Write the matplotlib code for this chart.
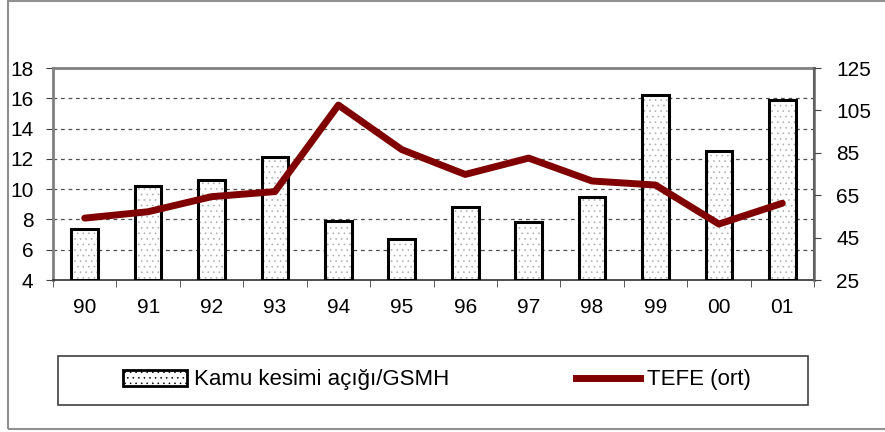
import matplotlib.pyplot as plt
from matplotlib.patches import Patch, Rectangle
from matplotlib.lines import Line2D
import numpy as np

# Veriler
yillar = ['90', '91', '92', '93', '94', '95', '96', '97', '98', '99', '00', '01']
kamu_acigi = [7.4, 10.2, 10.6, 12.1, 7.9, 6.7, 8.8, 7.8, 9.5, 16.2, 12.5, 15.9]
tefe = [54.2, 57.2, 64.3, 66.7, 107.5, 86.5, 74.8, 82.5, 71.7, 69.8, 51.4, 61.2]

sol_ticks = [4, 6, 8, 10, 12, 14, 16, 18]
sag_ticks = [25, 45, 65, 85, 105, 125]

plt.rcParams['font.family'] = ['Liberation Sans', 'DejaVu Sans']
plt.rcParams['hatch.linewidth'] = 0.4

fig = plt.figure(figsize=(8.85, 4.32), dpi=100)
ax = fig.add_axes([53 / 885, 1 - 280 / 432, 761 / 885, 212 / 432])

x = np.arange(len(yillar)) + 0.5

# Barlar: önce noktalı dolgu, sonra siyah çerçeve
ax.bar(x, [v - 4 for v in kamu_acigi], bottom=4, width=0.42, color='white',
       edgecolor='#a8a8a8', hatch='...', linewidth=0, zorder=2)
ax.bar(x, [v - 4 for v in kamu_acigi], bottom=4, width=0.42, fill=False,
       edgecolor='black', linewidth=2.2, zorder=3)

ax.set_xlim(0, len(yillar))
ax.set_ylim(4, 18)
ax.set_yticks(sol_ticks)
ax.set_xticks(x)
ax.set_xticklabels(yillar)
ax.set_xticks(np.arange(len(yillar) + 1), minor=True)
ax.tick_params(axis='x', which='major', length=0, pad=13, labelsize=15)
ax.tick_params(axis='x', which='minor', length=5, direction='out', color='#404040')
ax.tick_params(axis='y', length=5, direction='out', labelsize=15, pad=9, color='#404040')

for yv in sol_ticks[1:-1]:
    ax.axhline(yv, color='#505050', linestyle=(0, (3, 3)), linewidth=0.9, zorder=1)

for s in ['top', 'left', 'right']:
    ax.spines[s].set_color('#808080')
    ax.spines[s].set_linewidth(2)
ax.spines['bottom'].set_color('#303030')
ax.spines['bottom'].set_linewidth(1.2)

# TEFE çizgisi (sağ eksen)
ax2 = ax.twinx()
ax2.plot(x, tefe, color='#800000', linewidth=5, solid_capstyle='round',
         solid_joinstyle='round', zorder=4)
ax2.set_ylim(25, 125)
ax2.set_yticks(sag_ticks)
ax2.tick_params(axis='y', length=5, direction='out', labelsize=15, pad=11, color='#404040')
for s in ax2.spines.values():
    s.set_visible(False)
ax2.spines['right'].set_visible(True)
ax2.spines['right'].set_color('#606060')
ax2.spines['right'].set_linewidth(1.5)

# Lejant
fig.patches.append(Rectangle((58 / 885, 1 - 405 / 432), 750 / 885, 49 / 432,
                             transform=fig.transFigure, fill=False,
                             edgecolor='#404040', linewidth=1.2))
handles = [Patch(facecolor='white', edgecolor='black', hatch='...', linewidth=2),
           Line2D([0], [0], color='#800000', linewidth=5)]
fig.legend(handles, ['Kamu kesimi açığı/GSMH', 'TEFE (ort)'], loc='center',
           bbox_to_anchor=(437 / 885, 1 - 380 / 432), ncol=2, frameon=False,
           fontsize=16, handlelength=2.9, handletextpad=0.3, columnspacing=5.7)

# Dış çerçeve
fig.patches.append(Rectangle((8 / 885, 3 / 432), 1.0, 1 - 4 / 432,
                             transform=fig.transFigure, fill=False,
                             edgecolor='#909090', linewidth=1.5))

fig.savefig('out.png', dpi=100)
